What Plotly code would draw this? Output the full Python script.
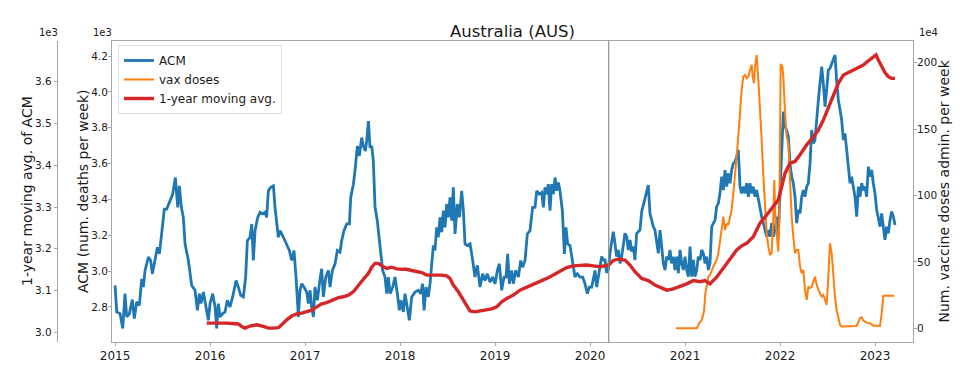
import plotly.graph_objects as go

# ---------------- data ----------------
# Weekly all-cause mortality (deaths per week), time in decimal years
acm_years = [
    2015.000, 2015.018, 2015.053, 2015.081, 2015.105, 2015.123, 2015.151, 2015.182, 2015.203, 2015.228,
    2015.256, 2015.281, 2015.298, 2015.316, 2015.351, 2015.375, 2015.393, 2015.421, 2015.446, 2015.467,
    2015.491, 2015.519, 2015.544, 2015.579, 2015.607, 2015.635, 2015.649, 2015.660, 2015.677, 2015.698,
    2015.719, 2015.737, 2015.772, 2015.807, 2015.842, 2015.867, 2015.888, 2015.905, 2015.930, 2015.958,
    2015.982, 2016.000, 2016.028, 2016.053, 2016.070, 2016.088, 2016.105, 2016.133, 2016.158, 2016.182,
    2016.210, 2016.238, 2016.274, 2016.298, 2016.323, 2016.351, 2016.375, 2016.393, 2016.421, 2016.439,
    2016.456, 2016.474, 2016.502, 2016.526, 2016.554, 2016.579, 2016.596, 2016.614, 2016.639, 2016.667,
    2016.684, 2016.719, 2016.737, 2016.772, 2016.807, 2016.835, 2016.860, 2016.884, 2016.905, 2016.930,
    2016.947, 2016.965, 2016.989, 2017.018, 2017.035, 2017.053, 2017.070, 2017.088, 2017.105, 2017.130,
    2017.158, 2017.175, 2017.193, 2017.218, 2017.246, 2017.263, 2017.288, 2017.316, 2017.340, 2017.368,
    2017.386, 2017.410, 2017.439, 2017.467, 2017.481, 2017.509, 2017.526, 2017.551, 2017.572, 2017.596,
    2017.614, 2017.635, 2017.649, 2017.667, 2017.684, 2017.702, 2017.719, 2017.737, 2017.761, 2017.789,
    2017.817, 2017.842, 2017.860, 2017.877, 2017.895, 2017.923, 2017.947, 2017.972, 2017.993, 2018.010,
    2018.035, 2018.053, 2018.077, 2018.098, 2018.123, 2018.158, 2018.193, 2018.217, 2018.238, 2018.253,
    2018.274, 2018.298, 2018.316, 2018.333, 2018.351, 2018.368, 2018.386, 2018.403, 2018.421, 2018.439,
    2018.456, 2018.474, 2018.491, 2018.509, 2018.526, 2018.544, 2018.561, 2018.579, 2018.603, 2018.625,
    2018.649, 2018.667, 2018.684, 2018.709, 2018.737, 2018.765, 2018.789, 2018.814, 2018.842, 2018.870,
    2018.895, 2018.919, 2018.947, 2018.975, 2019.000, 2019.025, 2019.046, 2019.070, 2019.095, 2019.116,
    2019.133, 2019.151, 2019.175, 2019.193, 2019.217, 2019.246, 2019.270, 2019.291, 2019.316, 2019.340,
    2019.368, 2019.396, 2019.421, 2019.439, 2019.467, 2019.491, 2019.509, 2019.526, 2019.544, 2019.561,
    2019.579, 2019.596, 2019.614, 2019.632, 2019.649, 2019.667, 2019.684, 2019.709, 2019.730, 2019.747,
    2019.765, 2019.789, 2019.817, 2019.842, 2019.867, 2019.895, 2019.923, 2019.947, 2019.972, 2019.993,
    2020.018, 2020.035, 2020.053, 2020.070, 2020.095,
    2020.123, 2020.140, 2020.158, 2020.175, 2020.193, 2020.210, 2020.228, 2020.245, 2020.263, 2020.280,
    2020.298, 2020.316, 2020.333, 2020.351, 2020.368, 2020.386, 2020.403, 2020.421, 2020.438, 2020.456,
    2020.473, 2020.491, 2020.509, 2020.526, 2020.544, 2020.561, 2020.579, 2020.596, 2020.614, 2020.631,
    2020.649, 2020.666, 2020.684, 2020.702, 2020.719, 2020.737, 2020.754, 2020.772, 2020.789, 2020.807,
    2020.824, 2020.842, 2020.859, 2020.877, 2020.894, 2020.912, 2020.930, 2020.947, 2020.965, 2020.982,
    2021.000, 2021.018, 2021.035, 2021.053, 2021.070, 2021.088, 2021.105, 2021.123, 2021.140, 2021.158,
    2021.175, 2021.193, 2021.211, 2021.228, 2021.246, 2021.263, 2021.281, 2021.298, 2021.316, 2021.333,
    2021.351, 2021.368, 2021.386, 2021.404, 2021.421, 2021.439, 2021.456, 2021.474, 2021.491, 2021.509,
    2021.526, 2021.544, 2021.561, 2021.579, 2021.596, 2021.614, 2021.632, 2021.649, 2021.667, 2021.684,
    2021.702, 2021.719, 2021.737, 2021.754, 2021.772, 2021.789, 2021.807, 2021.825, 2021.842, 2021.860,
    2021.877, 2021.895, 2021.912, 2021.930, 2021.947, 2021.965, 2021.982,
    2022.000, 2022.018, 2022.035, 2022.053, 2022.070, 2022.088, 2022.105, 2022.123, 2022.140, 2022.158,
    2022.175, 2022.193, 2022.211, 2022.228, 2022.246, 2022.263, 2022.281, 2022.298, 2022.316, 2022.333,
    2022.351, 2022.368, 2022.386, 2022.404, 2022.421, 2022.439, 2022.456, 2022.474, 2022.491, 2022.509,
    2022.526, 2022.544, 2022.561, 2022.579, 2022.596, 2022.614, 2022.632, 2022.649, 2022.667, 2022.684,
    2022.702, 2022.719, 2022.737, 2022.754, 2022.772, 2022.789, 2022.807, 2022.825, 2022.842, 2022.860,
    2022.877, 2022.895, 2022.912, 2022.930, 2022.947, 2022.965, 2022.982,
    2023.000, 2023.018, 2023.035, 2023.053, 2023.070, 2023.088, 2023.105, 2023.123, 2023.140, 2023.158,
    2023.175, 2023.193, 2023.211,
]
acm_deaths = [
    2920, 2772, 2763, 2680, 2874, 2744, 2763, 2841, 2735, 2828,
    2809, 2957, 2911, 3004, 3078, 3059, 2985, 3059, 3133, 3096,
    3207, 3346, 3346, 3393, 3430, 3522, 3448, 3356, 3476, 3356,
    3300, 3152, 3059, 2920, 2893, 2781, 2874, 2819, 2883, 2800,
    2726, 2819, 2874, 2800, 2680, 2819, 2744, 2763, 2772, 2837,
    2800, 2856, 2948, 2911, 2865, 2856, 2967, 3170, 3189, 3263,
    3059, 3226, 3300, 3328, 3319, 3328, 3300, 3448, 3467, 3476,
    3356, 3189, 3226, 3189, 3152, 3115, 3059, 3115, 2967, 2744,
    2893, 2930, 2911, 2883, 2819, 2893, 2800, 2744, 2911, 2837,
    2957, 3013, 2856, 2967, 3004, 2911, 3004, 3041, 3115, 3106,
    3170, 3226, 3263, 3263, 3411, 3485, 3559, 3698, 3643, 3745,
    3698, 3670, 3726, 3837, 3689, 3698, 3615, 3356, 3281, 3152,
    3004, 2967, 2874, 2967, 2874, 2911, 2967, 2874, 2781, 2837,
    2772, 2874, 2800, 2726, 2856, 2883, 2893, 2874, 2930, 2781,
    2911, 2856, 2930, 3059, 3143, 3115, 3244, 3189, 3300, 3217,
    3337, 3244, 3374, 3300, 3411, 3281, 3467, 3207, 3374, 3300,
    3448, 3337, 3152, 3143, 3152, 3059, 2967, 3032, 2911, 2985,
    2948, 2985, 2939, 2967, 2930, 3004, 3041, 2893, 2967, 2967,
    3096, 2930, 3004, 2930, 3004, 2967, 3059, 3022, 3059, 3207,
    3226, 3356, 3356, 3448, 3430, 3439, 3356, 3467, 3430, 3485,
    3337, 3485, 3430, 3522, 3448, 3494, 3448, 3337, 3096, 3244,
    3152, 3143, 3041, 2967, 2985, 2967, 2967, 2930, 2874, 2911,
    2911, 2967, 3004, 2911, 3004,
    3081, 3062, 3062, 2990, 3010, 3100, 3160, 3220, 3155, 3081,
    3118, 3043, 3081, 3155, 3211, 3192, 3118, 3174, 3109, 3137,
    3062, 3211, 3220, 3229, 3332, 3370, 3400, 3440, 3480, 3322,
    3285, 3248, 3229, 3146, 3099, 3229, 3137, 3043, 3006, 3081,
    3062, 3118, 3043, 3081, 3006, 3081, 2988, 3118, 3043, 3006,
    3081, 3006, 2969, 3137, 2969, 3062, 2969, 3006, 3081, 3062,
    3118, 3099, 3043, 3081, 3006, 3043, 3248, 3267, 3285, 3360,
    3378, 3434, 3527, 3452, 3564, 3471, 3545, 3490, 3564, 3601,
    3611, 3638, 3676, 3471, 3434, 3471, 3434, 3490, 3415, 3490,
    3434, 3471, 3415, 3452, 3397, 3341, 3304, 3267, 3229, 3192,
    3229, 3192, 3267, 3192, 3229, 3304, 3192,
    3452, 3731, 3890, 3806, 3787, 3750, 3601, 3527, 3490, 3415,
    3267, 3341, 3322, 3415, 3452, 3415, 3471, 3490, 3601, 3787,
    3713, 3731, 3862, 3955, 4048, 4140, 4048, 3917, 4010, 4122,
    4131, 4159, 4187, 4205, 4066, 3955, 3899, 3843, 3731, 3769,
    3676, 3564, 3490, 3527, 3471, 3415, 3304, 3471, 3415, 3490,
    3452, 3471, 3415, 3583, 3527, 3564, 3490,
    3434, 3341, 3304, 3248, 3322, 3229, 3174, 3248, 3211, 3285,
    3332, 3304, 3257,
]

# 1-year moving average of ACM (deaths per week)
ma_years = [
    2015.965, 2016.035, 2016.105, 2016.175, 2016.246, 2016.298, 2016.333, 2016.368, 2016.421, 2016.491,
    2016.561, 2016.614, 2016.667, 2016.719, 2016.754, 2016.807, 2016.860, 2016.912, 2016.965, 2017.018,
    2017.070, 2017.123, 2017.175, 2017.228, 2017.298, 2017.351, 2017.403, 2017.456, 2017.509, 2017.561,
    2017.614, 2017.667, 2017.702, 2017.737, 2017.772, 2017.807, 2017.860, 2017.912, 2017.965, 2018.018,
    2018.070, 2018.123, 2018.175, 2018.228, 2018.281, 2018.333, 2018.386, 2018.439, 2018.491, 2018.526,
    2018.561, 2018.614, 2018.667, 2018.702, 2018.737, 2018.789, 2018.842, 2018.912, 2018.965, 2019.018,
    2019.070, 2019.123, 2019.193, 2019.263, 2019.333, 2019.403, 2019.474, 2019.544, 2019.614, 2019.684,
    2019.754, 2019.825, 2019.895, 2019.965, 2020.035, 2020.105,
    2020.193, 2020.245, 2020.298, 2020.368, 2020.421, 2020.473, 2020.544, 2020.614, 2020.684, 2020.737,
    2020.807, 2020.877, 2020.947, 2021.018, 2021.088, 2021.158, 2021.211, 2021.263, 2021.333, 2021.404,
    2021.474, 2021.544, 2021.596, 2021.649, 2021.719, 2021.789, 2021.860, 2021.930, 2021.982, 2022.018,
    2022.053, 2022.105, 2022.158, 2022.211, 2022.281, 2022.351, 2022.404, 2022.456, 2022.509, 2022.561,
    2022.614, 2022.667, 2022.719, 2022.772, 2022.825, 2022.877, 2022.930, 2022.982, 2023.011, 2023.035,
    2023.070, 2023.105, 2023.140, 2023.175, 2023.211,
]
ma_deaths = [
    3022, 3023, 3022, 3022, 3022, 3020, 3014, 3010, 3015, 3018,
    3014, 3010, 3010, 3011, 3018, 3030, 3039, 3044, 3046, 3050,
    3053, 3061, 3068, 3071, 3077, 3083, 3085, 3089, 3097, 3113,
    3127, 3141, 3156, 3165, 3165, 3159, 3153, 3156, 3152, 3151,
    3151, 3148, 3145, 3143, 3137, 3136, 3137, 3137, 3135, 3129,
    3113, 3097, 3077, 3061, 3051, 3049, 3051, 3053, 3056, 3061,
    3073, 3081, 3089, 3101, 3108, 3113, 3121, 3129, 3137, 3145,
    3155, 3159, 3161, 3161, 3159, 3157,
    3161, 3172, 3175, 3173, 3161, 3145, 3129, 3124, 3113, 3108,
    3101, 3104, 3109, 3116, 3124, 3121, 3124, 3116, 3132, 3153,
    3173, 3197, 3207, 3213, 3229, 3261, 3281, 3301, 3317, 3349,
    3381, 3405, 3409, 3425, 3449, 3468, 3484, 3508, 3536, 3568,
    3596, 3616, 3622, 3626, 3632, 3640, 3650, 3660, 3664, 3652,
    3636, 3622, 3612, 3608, 3608,
]

# Vaccine doses administered per week (units of 1e4 doses)
vax_years = [
    2020.905, 2021.018, 2021.123, 2021.151, 2021.175, 2021.200, 2021.214, 2021.228, 2021.246, 2021.263,
    2021.281, 2021.298, 2021.316, 2021.333, 2021.351, 2021.368, 2021.386, 2021.404, 2021.421, 2021.439,
    2021.456, 2021.474, 2021.491, 2021.509, 2021.526, 2021.544, 2021.561, 2021.579, 2021.596, 2021.614,
    2021.632, 2021.649, 2021.667, 2021.684, 2021.702, 2021.712, 2021.726, 2021.737, 2021.754, 2021.772,
    2021.789, 2021.807, 2021.825, 2021.842, 2021.860, 2021.877, 2021.895, 2021.912, 2021.930, 2021.940,
    2021.951, 2021.965, 2021.982, 2021.993, 2022.007, 2022.025, 2022.035, 2022.053, 2022.070, 2022.088,
    2022.105, 2022.123, 2022.140, 2022.158, 2022.175, 2022.193, 2022.211, 2022.228, 2022.246, 2022.263,
    2022.281, 2022.298, 2022.316, 2022.333, 2022.351, 2022.368, 2022.386, 2022.404, 2022.421, 2022.439,
    2022.456, 2022.474, 2022.491, 2022.509, 2022.526, 2022.544, 2022.561, 2022.579, 2022.596, 2022.614,
    2022.632, 2022.649, 2022.702, 2022.754, 2022.807, 2022.842, 2022.860, 2022.877, 2022.912, 2022.947,
    2022.982, 2023.018, 2023.053, 2023.070, 2023.088, 2023.140, 2023.204,
]
vax_doses_1e4 = [
    0, 0, 0, 4, 6, 12.6, 26.4, 31.4, 38.9, 40.2,
    44, 46.5, 49, 51.5, 56.5, 66.5, 74, 84.1, 74, 79,
    77.8, 84.1, 89.1, 101.7, 114.2, 129.3, 144.3, 161.9, 179.4, 189.5,
    190.7, 188.2, 189.5, 194.5, 198.3, 189.5, 184.5, 197, 205.8, 187,
    166.9, 141.8, 114.2, 91.6, 71.5, 61.5, 55.2, 56.5, 84.1, 111.7,
    84.1, 71.5, 57.8, 84.1, 199, 197, 189.5, 161.9, 144.3, 139.3,
    106.7, 84.1, 69, 56.5, 59, 59, 46.5, 41.4, 44, 28.9,
    21.4, 31.4, 30.2, 31.4, 35.2, 38.9, 32.7, 28.9, 26.4, 23.9,
    25.1, 21.4, 17.6, 38.9, 64, 56.5, 38.9, 23.9, 13.8, 8.8,
    2.5, 1.3, 1.3, 1.3, 1.8, 7.6, 8.3, 5.8, 4.3, 3.8,
    2, 2, 1.8, 11.3, 24.6, 24.6, 24.6,
]

assert len(acm_years) == len(acm_deaths)
assert len(ma_years) == len(ma_deaths)
assert len(vax_years) == len(vax_doses_1e4)

year_ticks = [2015, 2016, 2017, 2018, 2019, 2020, 2021, 2022, 2023]
acm_ticks = [2800, 3000, 3200, 3400, 3600, 3800, 4000, 4200]
ma_ticks = [3000, 3100, 3200, 3300, 3400, 3500, 3600]
vax_ticks = [0, 50, 100, 150, 200]
pandemic_start = 2020.197  # vertical marker (March 2020)

# ---------------- figure ----------------
W, H = 967, 376
OFF = 8  # the page body has an 8px margin; place things in window pixels
def px(x):
    return (x - OFF) / W
def py(y):
    return 1 - (y - OFF) / H

FONT = "DejaVu Sans"
FRAME = "#a6a6a6"
TXT = "#1a1a1a"

fig = go.Figure()
fig.add_trace(go.Scatter(x=acm_years, y=acm_deaths, name="ACM", mode="lines",
                         line=dict(color="#1f77b4", width=2.8), yaxis="y"))
fig.add_trace(go.Scatter(x=vax_years, y=vax_doses_1e4, name="vax doses", mode="lines",
                         line=dict(color="#ff7f0e", width=2.0), yaxis="y2"))
fig.add_trace(go.Scatter(x=ma_years, y=ma_deaths, name="1-year moving avg.", mode="lines",
                         line=dict(color="#d62728", width=3.4), yaxis="y3"))

x0, x1 = px(112), px(913)
y0, y1 = py(342), py(41)

common = dict(ticks="outside", ticklen=3, tickcolor=FRAME,
              showline=True, linecolor=FRAME, linewidth=1,
              showgrid=False, zeroline=False, automargin=False)

fig.update_layout(
    width=W, height=H,
    margin=dict(l=0, r=0, t=0, b=0, autoexpand=False),
    paper_bgcolor="white", plot_bgcolor="white",
    font=dict(family=FONT, color=TXT),
    showlegend=True,
    legend=dict(x=px(118), y=py(45), xanchor="left", yanchor="top",
                bgcolor="white", bordercolor="#dddddd", borderwidth=1,
                font=dict(size=12, family=FONT, color=TXT), itemwidth=30,
                tracegroupgap=0),
    xaxis=dict(domain=[x0, x1], range=[2014.968, 2023.40],
               tickmode="array", tickvals=year_ticks, ticktext=[str(v) for v in year_ticks],
               mirror=True, tickfont=dict(size=12, family=FONT, color=TXT), **common),
    yaxis=dict(domain=[y0, y1], range=[2604.6, 4283.7],
               tickmode="array", tickvals=acm_ticks,
               ticktext=[f"{v/1000:.1f}" for v in acm_ticks], ticklabelstandoff=-2,
               tickfont=dict(size=10.5, family=FONT, color=TXT), **common),
    yaxis2=dict(overlaying="y", side="right", anchor="x", range=[-10.3, 216.3],
                tickmode="array", tickvals=vax_ticks, ticktext=[str(v) for v in vax_ticks],
                ticklabelstandoff=-2,
                tickfont=dict(size=10.5, family=FONT, color=TXT), **common),
    yaxis3=dict(overlaying="y", side="left", anchor="free", position=px(56.7),
                range=[2976.8, 3697.4],
                tickmode="array", tickvals=ma_ticks,
                ticktext=[f"{v/1000:.1f}" for v in ma_ticks],
                tickfont=dict(size=10.5, family=FONT, color=TXT), **common),
)

fig.add_shape(type="line", xref="x", yref="paper", x0=pandemic_start, x1=pandemic_start,
              y0=y0, y1=y1, line=dict(color="#8c8c8c", width=1.2), layer="above")

ann = [
    dict(text="Australia (AUS)", x=px(512.5), y=py(32), size=16.5, angle=0),
    dict(text="1e3", x=px(48), y=py(33), size=10, angle=0),
    dict(text="1e3", x=px(102), y=py(33), size=10, angle=0),
    dict(text="1e4", x=px(928), y=py(33), size=10, angle=0),
    dict(text="1-year moving avg. of ACM", x=px(27.5), y=py(191.5), size=14, angle=-90),
    dict(text="ACM (num. deaths per week)", x=px(83.5), y=py(191.5), size=14, angle=-90),
    dict(text="Num. vaccine doses admin. per week", x=px(944), y=py(191.5), size=14, angle=-90),
]
for a in ann:
    fig.add_annotation(text=a["text"], x=a["x"], y=a["y"], xref="paper", yref="paper",
                       xanchor="center", yanchor="middle", showarrow=False,
                       textangle=a["angle"], font=dict(size=a["size"], family=FONT, color=TXT))

fig.write_html("out.html", config={"displayModeBar": False})
